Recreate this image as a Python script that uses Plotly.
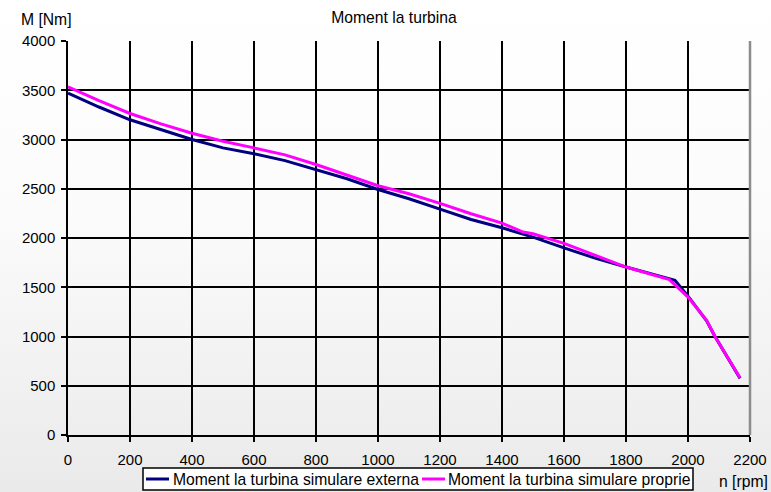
import base64
import plotly.graph_objects as go

# Turbine torque vs. speed: externally simulated vs. own simulation
n_externa = [0, 100, 200, 300, 400, 500, 600, 700, 800, 900, 1000, 1100, 1200,
             1300, 1400, 1500, 1600, 1700, 1800, 1958, 2000, 2060, 2087, 2168]
m_externa = [3470, 3330, 3200, 3097, 3000, 2915, 2855, 2786, 2692, 2601, 2492, 2398, 2293,
             2188, 2104, 2009, 1900, 1796, 1705, 1570, 1410, 1160, 1000, 575]

n_proprie = [0, 100, 200, 300, 400, 500, 600, 700, 800, 900, 1000, 1100, 1200,
             1300, 1400, 1468, 1500, 1600, 1700, 1800, 1940, 2000, 2060, 2087, 2168]
m_proprie = [3535, 3395, 3264, 3158, 3063, 2982, 2915, 2844, 2746, 2640, 2530, 2449, 2352,
             2246, 2151, 2060, 2043, 1945, 1824, 1705, 1577, 1400, 1165, 1000, 578]

series_names = ["Moment la turbina simulare externa", "Moment la turbina simulare proprie"]
series_colors = ["#000080", "#ff00ff"]

x_ticks = list(range(0, 2201, 200))
y_ticks = list(range(0, 4001, 500))

W, H = 771, 492
ML, MR, MT, MB = 68, 21, 41, 57
PW, PH = W - ML - MR, H - MT - MB

FONT = "Liberation Sans, Arial, sans-serif"
FS = 15
FS_TXT = 15.7


def px_x(px):
    """pixel column -> paper x"""
    return (px - ML) / PW


def px_y(py):
    """pixel row -> paper y"""
    return (H - MB - py) / PH


# soft vertical page gradient
svg = (
    '<svg xmlns="http://www.w3.org/2000/svg" width="10" height="100" preserveAspectRatio="none">'
    '<defs><linearGradient id="g" x1="0" y1="0" x2="0" y2="1">'
    '<stop offset="0" stop-color="#ffffff"/><stop offset="0.45" stop-color="#fbfbfb"/>'
    '<stop offset="1" stop-color="#eaeaea"/></linearGradient></defs>'
    '<rect width="10" height="100" fill="url(#g)"/></svg>'
)
bg_src = "data:image/svg+xml;base64," + base64.b64encode(svg.encode()).decode()

fig = go.Figure()
for xs, ys, name, color in [(n_externa, m_externa, series_names[0], series_colors[0]),
                            (n_proprie, m_proprie, series_names[1], series_colors[1])]:
    fig.add_trace(go.Scatter(x=xs, y=ys, mode="lines", name=name,
                             line=dict(color=color, width=3), showlegend=False))

axis_common = dict(
    showgrid=True, gridcolor="#000000", gridwidth=1.5,
    showline=True, linecolor="#000000", linewidth=1.5,
    ticks="outside", ticklen=5, tickcolor="#000000", tickwidth=1.5,
    zeroline=False, tickfont=dict(family=FONT, size=FS, color="#000000"),
)

fig.update_xaxes(range=[0, 2200], tickvals=x_ticks, ticktext=[str(v) for v in x_ticks],
                 ticklabelstandoff=5, **axis_common)
fig.update_yaxes(range=[0, 4000], tickvals=y_ticks, ticktext=[str(v) for v in y_ticks],
                 ticklabelstandoff=3, **axis_common)

# grey right-hand frame of the plot area
fig.add_shape(type="line", xref="paper", yref="paper", x0=1, x1=1, y0=0, y1=1,
              line=dict(color="#8c8c8c", width=2.5), layer="above")

# legend box below the axis
leg_top, leg_bot = 468, 490
fig.add_shape(type="rect", xref="paper", yref="paper",
              x0=px_x(143), x1=px_x(693), y0=px_y(leg_bot), y1=px_y(leg_top),
              fillcolor="#ffffff", line=dict(color="#000000", width=1.5), layer="above")
leg_mid = (leg_top + leg_bot) / 2
for (s0, s1, tx), name, color in zip([(146, 169, 171), (422, 445, 446)],
                                     series_names, series_colors):
    fig.add_shape(type="line", xref="paper", yref="paper",
                  x0=px_x(s0), x1=px_x(s1), y0=px_y(leg_mid), y1=px_y(leg_mid),
                  line=dict(color=color, width=3), layer="above")
    fig.add_annotation(text=name, xref="paper", yref="paper",
                       x=px_x(tx), y=px_y(leg_mid + 0.5), xanchor="left", yanchor="middle",
                       showarrow=False, font=dict(family=FONT, size=FS_TXT, color="#000000"))

fig.add_annotation(text="M [Nm]", xref="paper", yref="paper",
                   x=px_x(46), y=px_y(19.5),
                   xanchor="center", yanchor="middle", showarrow=False,
                   font=dict(family=FONT, size=FS_TXT, color="#000000"))
fig.add_annotation(text="n [rpm]", xref="paper", yref="paper",
                   x=px_x(743), y=px_y(481.7),
                   xanchor="center", yanchor="middle", showarrow=False,
                   font=dict(family=FONT, size=FS_TXT, color="#000000"))

fig.update_layout(
    width=W, height=H,
    margin=dict(l=ML, r=MR, t=MT, b=MB, autoexpand=False),
    paper_bgcolor="rgba(0,0,0,0)", plot_bgcolor="rgba(0,0,0,0)",
    title=dict(text="Moment la turbina", x=px_x(394), xref="paper", xanchor="center",
               y=1 - 17.5 / H, yanchor="middle",
               font=dict(family=FONT, size=FS_TXT, color="#000000")),
    images=[dict(source=bg_src, xref="paper", yref="paper",
                 x=-ML / PW, y=1 + MT / PH, sizex=W / PW, sizey=H / PH,
                 sizing="stretch", layer="below", xanchor="left", yanchor="top")],
    showlegend=False,
)

fig.write_html("out.html")
